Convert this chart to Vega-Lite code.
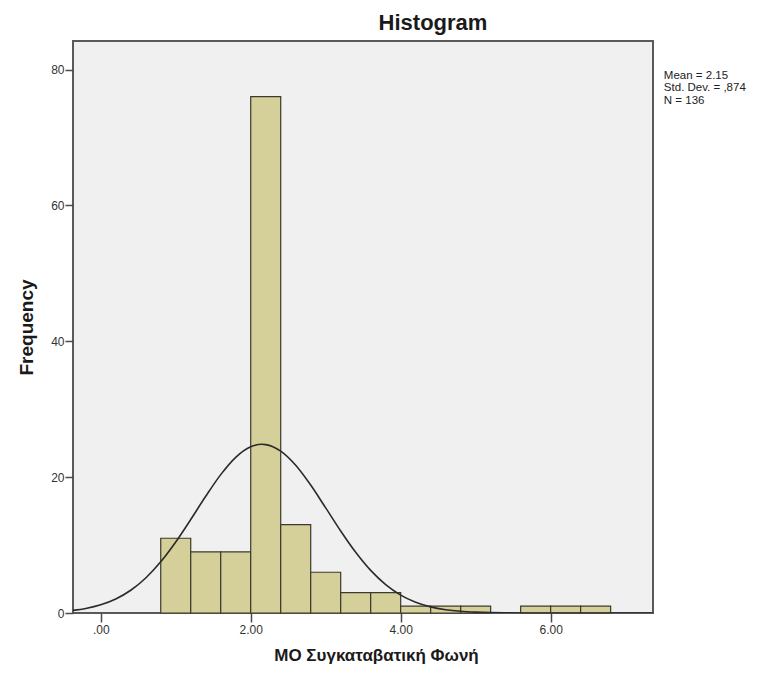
{
  "$schema": "https://vega.github.io/schema/vega-lite/v6.json",
  "width": 580,
  "height": 572,
  "autosize": "none",
  "padding": {"left": 73, "top": 41, "right": 120, "bottom": 67},
  "background": "white",
  "config": {
    "font": "Liberation Sans",
    "view": {"fill": "#f0f0f0", "stroke": "#5a5a5a", "strokeWidth": 2}
  },
  "title": {"text": "Histogram", "fontSize": 22, "fontWeight": "bold", "color": "#1a1a1a", "anchor": "middle", "dx": 70, "offset": 6},
  "datasets": {
    "bins": [
      {"bin_start": 0.8, "bin_end": 1.2, "count": 11},
      {"bin_start": 1.2, "bin_end": 1.6, "count": 9},
      {"bin_start": 1.6, "bin_end": 2.0, "count": 9},
      {"bin_start": 2.0, "bin_end": 2.4, "count": 76},
      {"bin_start": 2.4, "bin_end": 2.8, "count": 13},
      {"bin_start": 2.8, "bin_end": 3.2, "count": 6},
      {"bin_start": 3.2, "bin_end": 3.6, "count": 3},
      {"bin_start": 3.6, "bin_end": 4.0, "count": 3},
      {"bin_start": 4.0, "bin_end": 4.4, "count": 1},
      {"bin_start": 4.4, "bin_end": 4.8, "count": 1},
      {"bin_start": 4.8, "bin_end": 5.2, "count": 1},
      {"bin_start": 5.6, "bin_end": 6.0, "count": 1},
      {"bin_start": 6.0, "bin_end": 6.4, "count": 1},
      {"bin_start": 6.4, "bin_end": 6.8, "count": 1}
    ],
    "curve": [
      {"x": -0.4, "y": 0.352}, {"x": -0.2, "y": 0.668}, {"x": 0.0, "y": 1.204},
      {"x": 0.2, "y": 2.061}, {"x": 0.4, "y": 3.347}, {"x": 0.6, "y": 5.155},
      {"x": 0.8, "y": 7.531}, {"x": 1.0, "y": 10.45}, {"x": 1.2, "y": 13.76},
      {"x": 1.4, "y": 17.18}, {"x": 1.6, "y": 20.37}, {"x": 1.8, "y": 22.92},
      {"x": 2.0, "y": 24.47}, {"x": 2.15, "y": 24.83}, {"x": 2.2, "y": 24.79},
      {"x": 2.4, "y": 23.83}, {"x": 2.6, "y": 21.75}, {"x": 2.8, "y": 18.83},
      {"x": 3.0, "y": 15.47}, {"x": 3.2, "y": 12.07}, {"x": 3.4, "y": 8.93},
      {"x": 3.6, "y": 6.27}, {"x": 3.8, "y": 4.18}, {"x": 4.0, "y": 2.64},
      {"x": 4.2, "y": 1.59}, {"x": 4.4, "y": 0.903}, {"x": 4.6, "y": 0.488},
      {"x": 4.8, "y": 0.25}, {"x": 5.0, "y": 0.122}, {"x": 5.2, "y": 0.056},
      {"x": 5.4, "y": 0.025}, {"x": 5.6, "y": 0.01}, {"x": 5.8, "y": 0.004},
      {"x": 6.0, "y": 0.001}, {"x": 6.5, "y": 0.0}, {"x": 7.0, "y": 0.0},
      {"x": 7.4, "y": 0.0}
    ],
    "stats": [
      {"label": "Mean = 2.15\nStd. Dev. = ,874\nN = 136"}
    ]
  },
  "layer": [
    {
      "data": {"name": "bins"},
      "mark": {"type": "rect", "fill": "#d5d099", "stroke": "#3b3a2c", "strokeWidth": 1.2},
      "encoding": {
        "x": {
          "field": "bin_start", "type": "quantitative",
          "scale": {"domain": [-0.37, 7.365], "nice": false, "zero": false},
          "axis": {
            "values": [0, 2, 4, 6],
            "labelExpr": "datum.value == 0 ? '.00' : format(datum.value, '.2f')",
            "grid": false, "domain": false,
            "tickSize": 9, "tickColor": "#4a4a4a", "tickWidth": 1.5,
            "labelFontSize": 12, "labelColor": "#333333", "labelPadding": 2,
            "title": "MO Συγκαταβατική Φωνή", "titleFontSize": 17, "titleFontWeight": "bold",
            "titleColor": "#1a1a1a", "titlePadding": 12, "titleX": 303
          }
        },
        "x2": {"field": "bin_end"},
        "y": {
          "field": "count", "type": "quantitative",
          "scale": {"domain": [0, 84.2], "nice": false},
          "axis": {
            "values": [0, 20, 40, 60, 80],
            "grid": false, "domain": false,
            "tickSize": 8, "tickColor": "#4a4a4a", "tickWidth": 1.5,
            "labelFontSize": 12, "labelColor": "#333333", "labelPadding": 1,
            "title": "Frequency", "titleFontSize": 19, "titleFontWeight": "bold",
            "titleColor": "#1a1a1a", "titlePadding": 14
          }
        },
        "y2": {"datum": 0}
      }
    },
    {
      "data": {"name": "curve"},
      "mark": {"type": "line", "color": "#2a2a2a", "strokeWidth": 1.6, "interpolate": "monotone", "clip": true},
      "encoding": {
        "x": {"field": "x", "type": "quantitative"},
        "y": {"field": "y", "type": "quantitative"}
      }
    },
    {
      "data": {"name": "stats"},
      "mark": {"type": "text", "align": "left", "baseline": "top", "lineBreak": "\n", "fontSize": 11.5, "lineHeight": 12.5, "color": "#222222"},
      "encoding": {
        "text": {"field": "label"},
        "x": {"datum": 7.51},
        "y": {"datum": 80}
      }
    }
  ]
}
